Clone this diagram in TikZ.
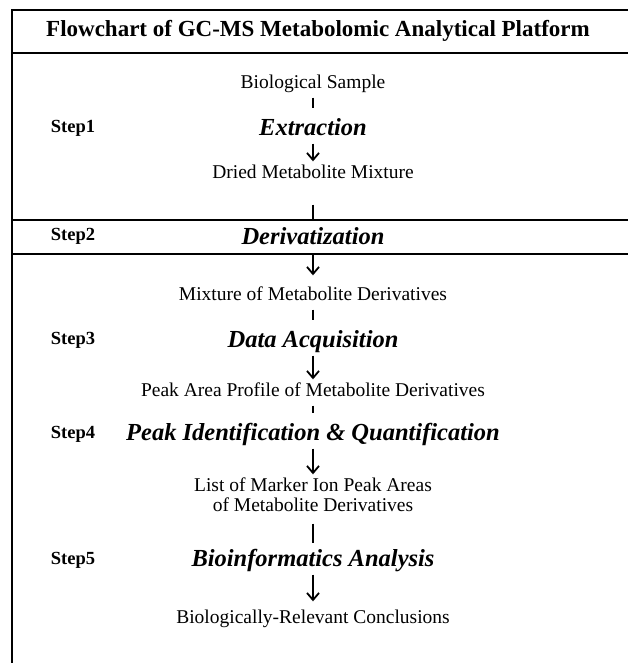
\documentclass[tikz,border=0pt]{standalone}
\usepackage{fontspec}
\setmainfont{Liberation Serif}
\usetikzlibrary{arrows.meta}

\tikzset{
  frameline/.style={line width=2.2pt, line cap=rect},
  titletext/.style={font=\fontsize{23}{26}\selectfont\bfseries, inner sep=0pt},
  statetext/.style={font=\fontsize{19.5}{22}\selectfont, inner sep=0pt,
                    text height=13pt, text depth=4pt, align=center},
  proctext/.style={font=\fontsize{24.5}{28}\selectfont\bfseries\itshape, inner sep=0pt,
                   text height=16pt, text depth=5pt},
  steptext/.style={font=\fontsize{18.5}{21}\selectfont\bfseries, inner sep=0pt},
  tickline/.style={line width=1.8pt, shorten <=5pt, shorten >=11pt},
  flowarrow/.style={line width=1.8pt, -{Straight Barb[length=7pt,width=12pt,line width=1.8pt]},
                    shorten <=3pt, shorten >=4pt}
}

\begin{document}
\begin{tikzpicture}[x=1pt,y=-1pt]
  \useasboundingbox (0,0) rectangle (627,663);

  % frame of the table
  \draw[frameline] (627,10) -- (12,10) -- (12,663);
  \draw[frameline] (12,53) -- (627,53);
  \draw[frameline] (12,220) -- (627,220);
  \draw[frameline] (12,254) -- (627,254);

  % heading
  \node[titletext] (title) at (318,31) {Flowchart of GC-MS Metabolomic Analytical Platform};

  % step labels
  \node[steptext] (s1) at (73,128) {Step1};
  \node[steptext] (s2) at (73,236) {Step2};
  \node[steptext] (s3) at (73,340) {Step3};
  \node[steptext] (s4) at (73,434) {Step4};
  \node[steptext] (s5) at (73,560) {Step5};

  % materials and processes
  \node[statetext] (bio)    at (313,84)  {Biological Sample};
  \node[proctext]  (extr)   at (313,130) {Extraction};
  \node[statetext] (dried)  at (313,174) {Dried Metabolite Mixture};
  \node[proctext]  (deriv)  at (313,239) {Derivatization};
  \node[statetext] (mix)    at (313,296) {Mixture of Metabolite Derivatives};
  \node[proctext]  (acq)    at (313,342) {Data Acquisition};
  \node[statetext] (peak)   at (313,392) {Peak Area Profile of Metabolite Derivatives};
  \node[proctext]  (ident)  at (313,435) {Peak Identification \& Quantification};
  \node[statetext] (list)   at (313,487) {List of Marker Ion Peak Areas};
  \node[statetext] (list2)  at (313,507) {of Metabolite Derivatives};
  \node[proctext]  (bioinf) at (313,561) {Bioinformatics Analysis};
  \node[statetext] (concl)  at (313,619) {Biologically-Relevant Conclusions};

  \coordinate (derivtop) at (313,220);
  \coordinate (derivbot) at (313,254);

  % connectors
  \draw[tickline] (bio) -- (extr);
  \draw[flowarrow] (extr) -- (dried);
  \draw[tickline, shorten <=22pt, shorten >=0pt] (dried) -- (derivtop);
  \draw[flowarrow, shorten <=0pt, shorten >=12pt] (derivbot) -- (mix);
  \draw[tickline] (mix) -- (acq);
  \draw[flowarrow] (acq) -- (peak);
  \draw[tickline] (peak) -- (ident);
  \draw[flowarrow] (ident) -- (list);
  \draw[tickline, shorten <=8pt, shorten >=7pt] (list2) -- (bioinf);
  \draw[flowarrow, shorten >=9pt] (bioinf) -- (concl);
\end{tikzpicture}
\end{document}
